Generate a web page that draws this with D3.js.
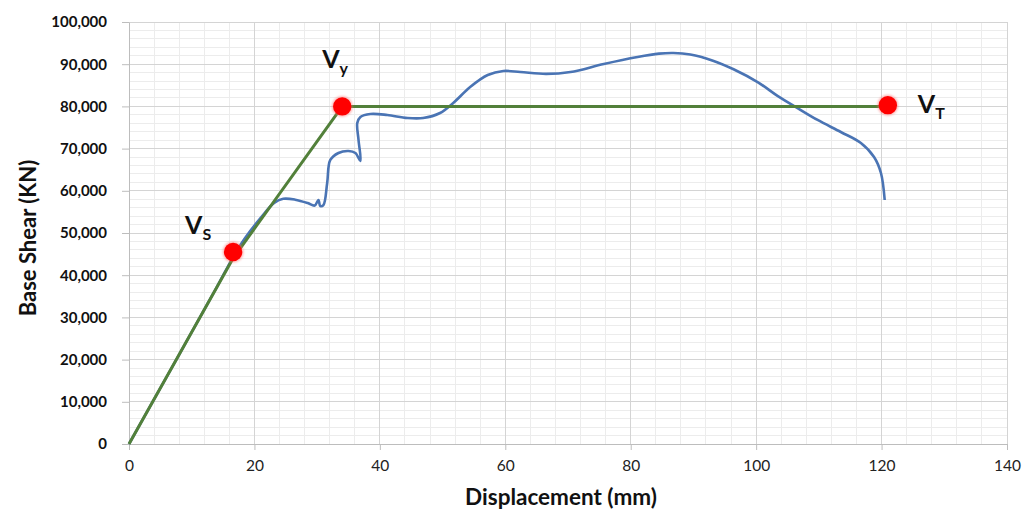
<!DOCTYPE html>
<html>
<head>
<meta charset="utf-8">
<script src="https://cdn.jsdelivr.net/npm/d3@7"></script>
<style>
  html, body { margin: 0; padding: 0; background: #fff; }
  svg { display: block; font-family: Lato, "Open Sans", sans-serif; }
</style>
</head>
<body>
<svg id="chart" width="1033" height="513"></svg>
<script>
// Pushover curve: displacement (mm) vs base shear (KN)
const capDisp  = [0, 8, 14, 16.6, 18.4, 21, 23.2, 24.6, 26.5, 28.5, 29.6, 30.2, 30.5, 31.0, 31.6, 32.1, 33.4, 35.0, 36.1, 36.9, 36.6, 36.4, 36.9, 38.5, 41.2, 44.4, 46.9, 49.6, 51.7, 54.4, 57.2, 59.7, 62.4, 66.5, 70.4, 75.7, 81.1, 84.5, 86.8, 89.5, 93.0, 96.4, 100.3, 103.4, 106.6, 109.8, 113.5, 116.7, 118.8, 119.9, 120.5];
const capShear = [0, 21200, 37200, 44300, 48600, 53600, 57200, 58100, 57900, 57100, 56500, 57800, 56400, 56600, 61850, 67300, 68960, 69430, 68960, 67060, 72040, 76070, 77490, 78200, 77960, 77250, 77250, 78440, 80810, 84600, 87440, 88390, 88150, 87700, 88150, 90050, 91710, 92500, 92660, 92300, 90900, 88800, 85700, 82500, 79600, 76780, 73930, 71330, 68010, 64220, 57820];

// Idealised envelope through the first yield, yield and ultimate points
const idealDisp  = [0, 16.6, 34, 121];
const idealShear = [0, 44000, 80000, 80000];

// Marked points
const pointNames = ["S", "y", "T"];
const pointDisp  = [16.6, 34, 121];
const pointShear = [45500, 80000, 80300];

const xTicks = [0, 20, 40, 60, 80, 100, 120, 140];
const yTicks = [0, 10000, 20000, 30000, 40000, 50000, 60000, 70000, 80000, 90000, 100000];
const xTitle = "Displacement (mm)";
const yTitle = "Base Shear (KN)";

const svg = d3.select("#chart");
const W = 1033, H = 513;
const m = { left: 129, right: 26, top: 22, bottom: 69 };

const x = d3.scaleLinear().domain([0, 140]).range([m.left, W - m.right]);
const y = d3.scaleLinear().domain([0, 100000]).range([H - m.bottom, m.top]);

svg.append("rect").attr("width", W).attr("height", H).attr("fill", "#fff");

// minor grid
const g = svg.append("g");
g.selectAll("line.mx").data(d3.range(0, 141, 4)).join("line")
  .attr("x1", d => x(d)).attr("x2", d => x(d))
  .attr("y1", y(0)).attr("y2", y(100000))
  .attr("stroke", "#ececec").attr("stroke-width", 1).attr("shape-rendering", "crispEdges");
g.selectAll("line.my").data(d3.range(0, 100001, 2000)).join("line")
  .attr("x1", x(0)).attr("x2", x(140))
  .attr("y1", d => y(d)).attr("y2", d => y(d))
  .attr("stroke", "#ececec").attr("stroke-width", 1).attr("shape-rendering", "crispEdges");

// major grid
g.append("g").selectAll("line").data(xTicks).join("line")
  .attr("x1", d => x(d)).attr("x2", d => x(d))
  .attr("y1", y(0)).attr("y2", y(100000))
  .attr("stroke", "#d4d4d4").attr("stroke-width", 1).attr("shape-rendering", "crispEdges");
g.append("g").selectAll("line").data(yTicks).join("line")
  .attr("x1", x(0)).attr("x2", x(140))
  .attr("y1", d => y(d)).attr("y2", d => y(d))
  .attr("stroke", "#d4d4d4").attr("stroke-width", 1).attr("shape-rendering", "crispEdges");

// axes
const xAxis = svg.append("g").attr("transform", `translate(0,${y(0)})`)
  .call(d3.axisBottom(x).tickValues(xTicks).tickSize(6).tickSizeOuter(0).tickPadding(10));
xAxis.selectAll("text").attr("font-size", 15.5).attr("fill", "#222").attr("font-family", "Lato, sans-serif");

const yAxis = svg.append("g").attr("transform", `translate(${x(0)},0)`)
  .call(d3.axisLeft(y).tickValues(yTicks).tickSize(7).tickSizeOuter(0).tickPadding(15).tickFormat(d3.format(",")));
yAxis.selectAll("text").attr("font-size", 15).attr("font-weight", "bold").attr("fill", "#111").attr("font-family", "Lato, sans-serif");

[xAxis, yAxis].forEach(a => {
  a.select(".domain").attr("stroke", "#bdbdbd");
  a.selectAll(".tick line").attr("stroke", "#bdbdbd");
});

// axis titles
svg.append("text").attr("x", 561).attr("y", 505)
  .attr("text-anchor", "middle").attr("font-size", 22.5).attr("font-weight", "bold").attr("fill", "#111")
  .text(xTitle);
svg.append("text").attr("transform", `translate(36,238) rotate(-90)`)
  .attr("text-anchor", "middle").attr("font-size", 22).attr("font-weight", "bold").attr("fill", "#111")
  .text(yTitle);

// curves
const cap = capDisp.map((d, i) => [d, capShear[i]]);
const ideal = idealDisp.map((d, i) => [d, idealShear[i]]);

const capLine = d3.line().x(d => x(d[0])).y(d => y(d[1])).curve(d3.curveCatmullRom.alpha(0.5));
const idealLine = d3.line().x(d => x(d[0])).y(d => y(d[1]));

svg.append("path").datum(cap).attr("d", capLine)
  .attr("fill", "none").attr("stroke", "#4a74b4").attr("stroke-width", 2.6).attr("stroke-linejoin", "round");
svg.append("path").datum(ideal).attr("d", idealLine)
  .attr("fill", "none").attr("stroke", "#52803a").attr("stroke-width", 3).attr("stroke-linejoin", "round");

// marked points
const defs = svg.append("defs");
const f = defs.append("filter").attr("id", "glow").attr("x", "-50%").attr("y", "-50%").attr("width", "200%").attr("height", "200%");
f.append("feGaussianBlur").attr("stdDeviation", 1.2);

const pts = pointDisp.map((d, i) => ({ d, v: pointShear[i], name: pointNames[i] }));
svg.append("g").selectAll("circle.h").data(pts).join("circle")
  .attr("cx", p => x(p.d)).attr("cy", p => y(p.v)).attr("r", 10.5)
  .attr("fill", "#ff6a6a").attr("opacity", 0.5).attr("filter", "url(#glow)");
svg.append("g").selectAll("circle.p").data(pts).join("circle")
  .attr("cx", p => x(p.d)).attr("cy", p => y(p.v)).attr("r", 9.2)
  .attr("fill", "#ff0000");

// point labels
const labelOffset = { S: [-48, -18], y: [-20, -38], T: [30, 8] };
pts.forEach(p => {
  const [dx, dy] = labelOffset[p.name];
  const t = svg.append("text")
    .attr("x", x(p.d) + dx).attr("y", y(p.v) + dy)
    .attr("font-weight", "bold").attr("fill", "#111");
  t.append("tspan").attr("font-size", 25).text("V");
  t.append("tspan").attr("font-size", 16).attr("dy", 6).text(p.name);
});
</script>
</body>
</html>
